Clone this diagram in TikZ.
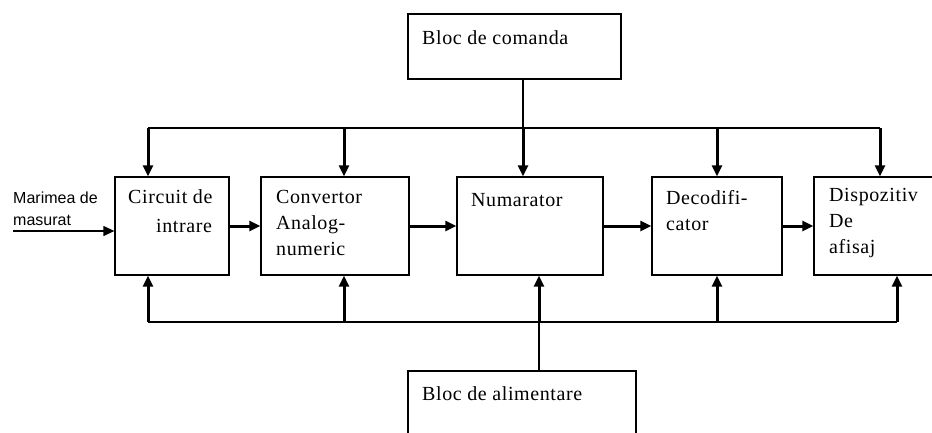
\documentclass[tikz,border=0pt]{standalone}
\usepackage{fontspec}
\setmainfont{Liberation Serif}[LetterSpace=3]
\newfontfamily\sansf{Liberation Sans}
\usepackage{tikz}
\usetikzlibrary{arrows.meta}

\begin{document}
\begin{tikzpicture}[x = 1pt, y = -1pt,
  box/.style = {draw, line width = 1.3pt, minimum height = 98pt, inner sep = 0},
  blk/.style = {draw, line width = 1.3pt, minimum height = 65pt, inner sep = 0},
  lbl/.style = {anchor = base west, inner sep = 0, align = left, font = \fontsize{20}{26}\selectfont},
  bus/.style = {line width = 1.3pt},
  feed/.style = {line width = 3pt, -{Triangle[length = 11pt, width = 10pt]}},
  feedin/.style = {line width = 1.3pt, -{Triangle[length = 11pt, width = 10pt]}}]
 \useasboundingbox (0, 0) rectangle (932, 432);
 \clip (0, 0) rectangle (932, 432);
 \fill[white] (0, 0) rectangle (932, 432);
 \node[box, minimum width = 114pt] (cir) at (172, 226) {};
 \node[box, minimum width = 148pt] (conv) at (335, 226) {};
 \node[box, minimum width = 146pt] (num) at (530, 226) {};
 \node[box, minimum width = 130pt] (dec) at (717, 226) {};
 \node[box, minimum width = 146pt] (disp) at (887, 226) {};
 \node[blk, minimum width = 213pt] (cmd) at (514.5, 46.5) {};
 \node[blk, minimum width = 228pt] (alim) at (522, 403.5) {};
 \node[lbl] (tcir) at (128, 232) {Circuit de\\[3pt]\hspace{28pt}intrare};
 \node[lbl] (tconv) at (276, 255) {Convertor\\Analog-\\numeric};
 \node[lbl] (tnum) at (471, 206) {Numarator};
 \node[lbl] (tdec) at (666, 230) {Decodifi-\\cator};
 \node[lbl] (tdisp) at (829, 253) {Dispozitiv\\De\\afisaj};
 \node[lbl] (tcmd) at (422, 44) {Bloc de comanda};
 \node[lbl] (talim) at (422, 400) {Bloc de alimentare};
 \node[lbl, font = \sansf\fontsize{16}{22}\selectfont] (tin) at (13, 225) {Marimea de\\masurat};
 \coordinate (t1) at (148, 128);
 \coordinate (t2) at (344, 128);
 \coordinate (t3) at (523, 128);
 \coordinate (t4) at (717, 128);
 \coordinate (t5) at (880, 128);
 \coordinate (b1) at (148, 322);
 \coordinate (b2) at (344, 322);
 \coordinate (b3) at (539, 322);
 \coordinate (b4) at (717, 322);
 \coordinate (b5) at (897, 322);
 \coordinate (in) at (13, 231);
 \draw[bus] (t1) -- (t5);
 \draw[bus] (b1) -- (b5);
 \draw[bus] (t3 |- cmd.south) -- (t3);
 \draw[bus] (b3 |- alim.north) -- (b3);
 \foreach \i/\n in {1/cir, 2/conv, 3/num, 4/dec, 5/disp} {
  \draw[feed] (t\i) -- (t\i |- \n.north);
 }
 \foreach \i/\n in {1/cir, 2/conv, 3/num, 4/dec, 5/disp} {
  \draw[feed] (b\i) -- (b\i |- \n.south);
 }
 \draw[feed] (cir) -- (conv);
 \draw[feed] (conv) -- (num);
 \draw[feed] (num) -- (dec);
 \draw[feed] (dec) -- (disp);
 \draw[feedin] (in) -- (in -| cir.west);
\end{tikzpicture}
\end{document}
